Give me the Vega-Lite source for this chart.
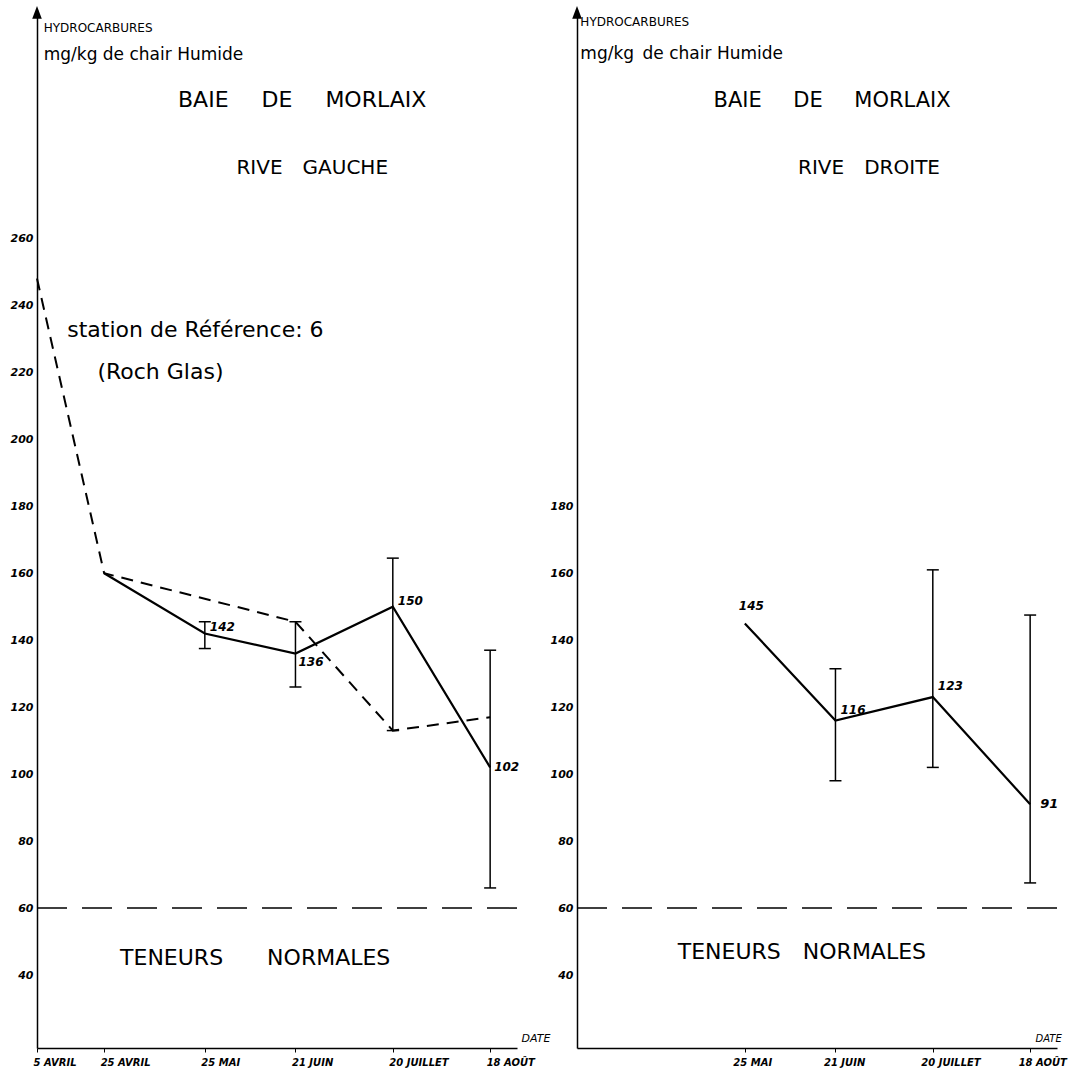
{
  "$schema": "https://vega.github.io/schema/vega-lite/v6.json",
  "background": "white",
  "padding": {"left": 10, "top": 6, "right": 10, "bottom": 4},
  "spacing": 60,
  "bounds": "flush",
  "datasets": {
    "gauche": [
      {"date": "1978-04-25", "value": 160, "lo": null, "hi": null},
      {"date": "1978-05-25", "value": 142, "lo": 137.5, "hi": 145.5},
      {"date": "1978-06-21", "value": 136, "lo": 126, "hi": 145.5},
      {"date": "1978-07-20", "value": 150, "lo": 113, "hi": 164.5},
      {"date": "1978-08-18", "value": 102, "lo": 66, "hi": 137}
    ],
    "reference": [
      {"date": "1978-04-05", "value": 248},
      {"date": "1978-04-25", "value": 160},
      {"date": "1978-06-21", "value": 145.5},
      {"date": "1978-07-20", "value": 113},
      {"date": "1978-08-18", "value": 117}
    ],
    "droite": [
      {"date": "1978-05-25", "value": 145, "lo": null, "hi": null},
      {"date": "1978-06-21", "value": 116, "lo": 98, "hi": 131.5},
      {"date": "1978-07-20", "value": 123, "lo": 102, "hi": 161},
      {"date": "1978-08-18", "value": 91, "lo": 67.5, "hi": 147.5}
    ],
    "one": [{}]
  },
  "config": {
    "view": {"stroke": null},
    "axis": {
      "grid": false,
      "domainColor": "black",
      "domainWidth": 1.5,
      "tickColor": "black",
      "labelColor": "black",
      "titleColor": "black",
      "labelFont": "DejaVu Sans",
      "titleFont": "DejaVu Sans"
    }
  },
  "hconcat": [
    {
      "width": 480,
      "height": 1038,
      "layer": [
        {
          "data": {"name": "reference"},
          "mark": {"type": "line", "strokeDash": [12, 8], "strokeWidth": 2, "color": "black"},
          "encoding": {
            "x": {
              "field": "date", "type": "temporal",
              "scale": {"type": "utc", "domain": [{"year": 1978, "month": 4, "date": 5, "utc": true}, {"year": 1978, "month": 8, "date": 26, "utc": true}]},
              "axis": {
                "values": [
                  {"year": 1978, "month": 4, "date": 5, "utc": true},
                  {"year": 1978, "month": 4, "date": 25, "utc": true},
                  {"year": 1978, "month": 5, "date": 25, "utc": true},
                  {"year": 1978, "month": 6, "date": 21, "utc": true},
                  {"year": 1978, "month": 7, "date": 20, "utc": true},
                  {"year": 1978, "month": 8, "date": 18, "utc": true}
                ],
                "labelExpr": "utcdate(datum.value) + ' ' + ['JANV','FÉV','MARS','AVRIL','MAI','JUIN','JUILLET','AOÛT','SEPT'][utcmonth(datum.value)]",
                "labelAlign": "left",
                "labelOffset": -4,
                "labelPadding": 5,
                "labelFontSize": 10,
                "labelFontStyle": "italic",
                "labelFontWeight": "bold",
                "tickSize": 4,
                "title": "DATE",
                "titleFontSize": 11,
                "titleFontWeight": "normal",
                "titleFontStyle": "italic",
                "titleX": 484,
                "titleY": -5,
                "titleAlign": "left",
                "titleBaseline": "bottom"
              }
            },
            "y": {
              "field": "value", "type": "quantitative",
              "scale": {"domain": [18.2, 328.2], "nice": false, "zero": false},
              "axis": {
                "values": [40, 60, 80, 100, 120, 140, 160, 180, 200, 220, 240, 260],
                "title": null,
                "ticks": false,
                "labelPadding": 4,
                "labelFontSize": 11,
                "labelFontStyle": "italic",
                "labelFontWeight": "bold"
              }
            }
          }
        },
        {
          "data": {"name": "one"},
          "mark": {"type": "rule", "strokeDash": [30, 15], "strokeWidth": 1.5, "color": "black"},
          "encoding": {"y": {"datum": 60}}
        },
        {
          "data": {"name": "gauche"},
          "transform": [{"filter": "isValid(datum.lo)"}],
          "mark": {"type": "rule", "strokeWidth": 1.5, "color": "black"},
          "encoding": {
            "x": {"field": "date", "type": "temporal"},
            "y": {"field": "lo", "type": "quantitative"},
            "y2": {"field": "hi"}
          }
        },
        {
          "data": {"name": "gauche"},
          "transform": [{"filter": "isValid(datum.lo)"}, {"fold": ["lo", "hi"], "as": ["end", "v"]}],
          "mark": {"type": "tick", "orient": "horizontal", "size": 12, "thickness": 1.5, "color": "black", "opacity": 1},
          "encoding": {
            "x": {"field": "date", "type": "temporal"},
            "y": {"field": "v", "type": "quantitative"}
          }
        },
        {
          "data": {"name": "gauche"},
          "mark": {"type": "line", "strokeWidth": 2.2, "color": "black"},
          "encoding": {
            "x": {"field": "date", "type": "temporal"},
            "y": {"field": "value", "type": "quantitative"}
          }
        },
        {
          "data": {"name": "gauche"},
          "transform": [{"filter": "datum.value == 142 || datum.value == 150"}],
          "mark": {"type": "text", "align": "left", "baseline": "middle", "dx": 5, "dy": -6, "fontSize": 12, "fontStyle": "italic", "fontWeight": "bold", "font": "DejaVu Sans", "color": "black"},
          "encoding": {
            "x": {"field": "date", "type": "temporal"},
            "y": {"field": "value", "type": "quantitative"},
            "text": {"field": "value"}
          }
        },
        {
          "data": {"name": "gauche"},
          "transform": [{"filter": "datum.value == 102"}],
          "mark": {"type": "text", "align": "left", "baseline": "middle", "dx": 4, "dy": 0, "fontSize": 12, "fontStyle": "italic", "fontWeight": "bold", "font": "DejaVu Sans", "color": "black"},
          "encoding": {
            "x": {"field": "date", "type": "temporal"},
            "y": {"field": "value", "type": "quantitative"},
            "text": {"field": "value"}
          }
        },
        {
          "data": {"name": "gauche"},
          "transform": [{"filter": "datum.value == 136"}],
          "mark": {"type": "text", "align": "left", "baseline": "middle", "dx": 3, "dy": 8, "fontSize": 12, "fontStyle": "italic", "fontWeight": "bold", "font": "DejaVu Sans", "color": "black"},
          "encoding": {
            "x": {"field": "date", "type": "temporal"},
            "y": {"field": "value", "type": "quantitative"},
            "text": {"field": "value"}
          }
        },
        {
          "data": {"name": "one"},
          "mark": {"type": "text", "text": "HYDROCARBURES", "align": "left", "baseline": "middle", "fontSize": 12, "font": "DejaVu Sans", "color": "black"},
          "encoding": {"x": {"datum": {"year": 1978, "month": 4, "date": 7, "utc": true}}, "y": {"datum": 322.8}}
        },
        {
          "data": {"name": "one"},
          "mark": {"type": "text", "text": "mg/kg de chair Humide", "align": "left", "baseline": "middle", "fontSize": 17, "font": "DejaVu Sans", "color": "black"},
          "encoding": {"x": {"datum": {"year": 1978, "month": 4, "date": 7, "utc": true}}, "y": {"datum": 314.7}}
        },
        {
          "data": {"name": "one"},
          "mark": {"type": "text", "text": "BAIE\u2003\u2002DE\u2003\u2002MORLAIX", "align": "center", "baseline": "middle", "fontSize": 22, "font": "DejaVu Sans", "color": "black"},
          "encoding": {"x": {"datum": {"year": 1978, "month": 6, "date": 23, "utc": true}}, "y": {"datum": 301.3}}
        },
        {
          "data": {"name": "one"},
          "mark": {"type": "text", "text": "RIVE\u2003GAUCHE", "align": "center", "baseline": "middle", "fontSize": 20, "font": "DejaVu Sans", "color": "black"},
          "encoding": {"x": {"datum": {"year": 1978, "month": 6, "date": 26, "utc": true}}, "y": {"datum": 281}}
        },
        {
          "data": {"name": "one"},
          "mark": {"type": "text", "text": "station de Référence: 6", "align": "left", "baseline": "middle", "fontSize": 22, "font": "DejaVu Sans", "color": "black"},
          "encoding": {"x": {"datum": {"year": 1978, "month": 4, "date": 14, "utc": true}}, "y": {"datum": 232.7}}
        },
        {
          "data": {"name": "one"},
          "mark": {"type": "text", "text": "(Roch Glas)", "align": "left", "baseline": "middle", "fontSize": 22, "font": "DejaVu Sans", "color": "black"},
          "encoding": {"x": {"datum": {"year": 1978, "month": 4, "date": 23, "utc": true}}, "y": {"datum": 220.1}}
        },
        {
          "data": {"name": "one"},
          "mark": {"type": "text", "text": "TENEURS\u2003\u2003NORMALES", "align": "center", "baseline": "middle", "fontSize": 22, "font": "DejaVu Sans", "color": "black"},
          "encoding": {"x": {"datum": {"year": 1978, "month": 6, "date": 9, "utc": true}}, "y": {"datum": 45}}
        },
        {
          "data": {"name": "one"},
          "mark": {"type": "point", "shape": "M0,-1L0.6,0.6L-0.6,0.6Z", "filled": true, "color": "black", "opacity": 1, "size": 256},
          "encoding": {"x": {"datum": {"year": 1978, "month": 4, "date": 5, "utc": true}}, "y": {"datum": 327}}
        }
      ]
    },
    {
      "width": 480,
      "height": 1038,
      "layer": [
        {
          "data": {"name": "droite"},
          "mark": {"type": "line", "strokeWidth": 2.2, "color": "black"},
          "encoding": {
            "x": {
              "field": "date", "type": "temporal",
              "scale": {"type": "utc", "domain": [{"year": 1978, "month": 4, "date": 5, "utc": true}, {"year": 1978, "month": 8, "date": 26, "utc": true}]},
              "axis": {
                "values": [
                  {"year": 1978, "month": 5, "date": 25, "utc": true},
                  {"year": 1978, "month": 6, "date": 21, "utc": true},
                  {"year": 1978, "month": 7, "date": 20, "utc": true},
                  {"year": 1978, "month": 8, "date": 18, "utc": true}
                ],
                "labelExpr": "utcdate(datum.value) + ' ' + ['JANV','FÉV','MARS','AVRIL','MAI','JUIN','JUILLET','AOÛT','SEPT'][utcmonth(datum.value)]",
                "labelAlign": "left",
                "labelOffset": -12,
                "labelPadding": 5,
                "labelFontSize": 10,
                "labelFontStyle": "italic",
                "labelFontWeight": "bold",
                "tickSize": 4,
                "title": "DATE",
                "titleFontSize": 10,
                "titleFontWeight": "normal",
                "titleFontStyle": "italic",
                "titleX": 458,
                "titleY": -5,
                "titleAlign": "left",
                "titleBaseline": "bottom"
              }
            },
            "y": {
              "field": "value", "type": "quantitative",
              "scale": {"domain": [18.2, 328.2], "nice": false, "zero": false},
              "axis": {
                "values": [40, 60, 80, 100, 120, 140, 160, 180],
                "title": null,
                "ticks": false,
                "labelPadding": 4,
                "labelFontSize": 11,
                "labelFontStyle": "italic",
                "labelFontWeight": "bold"
              }
            }
          }
        },
        {
          "data": {"name": "one"},
          "mark": {"type": "rule", "strokeDash": [30, 15], "strokeWidth": 1.5, "color": "black"},
          "encoding": {"y": {"datum": 60}}
        },
        {
          "data": {"name": "droite"},
          "transform": [{"filter": "isValid(datum.lo)"}],
          "mark": {"type": "rule", "strokeWidth": 1.5, "color": "black"},
          "encoding": {
            "x": {"field": "date", "type": "temporal"},
            "y": {"field": "lo", "type": "quantitative"},
            "y2": {"field": "hi"}
          }
        },
        {
          "data": {"name": "droite"},
          "transform": [{"filter": "isValid(datum.lo)"}, {"fold": ["lo", "hi"], "as": ["end", "v"]}],
          "mark": {"type": "tick", "orient": "horizontal", "size": 12, "thickness": 1.5, "color": "black", "opacity": 1},
          "encoding": {
            "x": {"field": "date", "type": "temporal"},
            "y": {"field": "v", "type": "quantitative"}
          }
        },
        {
          "data": {"name": "droite"},
          "transform": [{"filter": "datum.value == 116 || datum.value == 123"}],
          "mark": {"type": "text", "align": "left", "baseline": "middle", "dx": 5, "dy": -11, "fontSize": 12, "fontStyle": "italic", "fontWeight": "bold", "font": "DejaVu Sans", "color": "black"},
          "encoding": {
            "x": {"field": "date", "type": "temporal"},
            "y": {"field": "value", "type": "quantitative"},
            "text": {"field": "value"}
          }
        },
        {
          "data": {"name": "droite"},
          "transform": [{"filter": "datum.value == 145"}],
          "mark": {"type": "text", "align": "left", "baseline": "middle", "dx": -6, "dy": -17, "fontSize": 12, "fontStyle": "italic", "fontWeight": "bold", "font": "DejaVu Sans", "color": "black"},
          "encoding": {
            "x": {"field": "date", "type": "temporal"},
            "y": {"field": "value", "type": "quantitative"},
            "text": {"field": "value"}
          }
        },
        {
          "data": {"name": "droite"},
          "transform": [{"filter": "datum.value == 91"}],
          "mark": {"type": "text", "align": "left", "baseline": "middle", "dx": 10, "dy": 0, "fontSize": 13, "fontStyle": "italic", "fontWeight": "bold", "font": "DejaVu Sans", "color": "black"},
          "encoding": {
            "x": {"field": "date", "type": "temporal"},
            "y": {"field": "value", "type": "quantitative"},
            "text": {"field": "value"}
          }
        },
        {
          "data": {"name": "one"},
          "mark": {"type": "text", "text": "HYDROCARBURES", "align": "left", "baseline": "middle", "fontSize": 12, "font": "DejaVu Sans", "color": "black"},
          "encoding": {"x": {"datum": {"year": 1978, "month": 4, "date": 6, "utc": true}}, "y": {"datum": 324.5}}
        },
        {
          "data": {"name": "one"},
          "mark": {"type": "text", "text": "mg/kg\u2002de chair Humide", "align": "left", "baseline": "middle", "fontSize": 17, "font": "DejaVu Sans", "color": "black"},
          "encoding": {"x": {"datum": {"year": 1978, "month": 4, "date": 6, "utc": true}}, "y": {"datum": 315.2}}
        },
        {
          "data": {"name": "one"},
          "mark": {"type": "text", "text": "BAIE\u2003\u2002DE\u2003\u2002MORLAIX", "align": "center", "baseline": "middle", "fontSize": 21, "font": "DejaVu Sans", "color": "black"},
          "encoding": {"x": {"datum": {"year": 1978, "month": 6, "date": 20, "utc": true}}, "y": {"datum": 301}}
        },
        {
          "data": {"name": "one"},
          "mark": {"type": "text", "text": "RIVE\u2003DROITE", "align": "center", "baseline": "middle", "fontSize": 20, "font": "DejaVu Sans", "color": "black"},
          "encoding": {"x": {"datum": {"year": 1978, "month": 7, "date": 1, "utc": true}}, "y": {"datum": 281}}
        },
        {
          "data": {"name": "one"},
          "mark": {"type": "text", "text": "TENEURS\u2003NORMALES", "align": "center", "baseline": "middle", "fontSize": 22, "font": "DejaVu Sans", "color": "black"},
          "encoding": {"x": {"datum": {"year": 1978, "month": 6, "date": 11, "utc": true}}, "y": {"datum": 46.8}}
        },
        {
          "data": {"name": "one"},
          "mark": {"type": "point", "shape": "M0,-1L0.6,0.6L-0.6,0.6Z", "filled": true, "color": "black", "opacity": 1, "size": 256},
          "encoding": {"x": {"datum": {"year": 1978, "month": 4, "date": 5, "utc": true}}, "y": {"datum": 327}}
        }
      ]
    }
  ]
}
